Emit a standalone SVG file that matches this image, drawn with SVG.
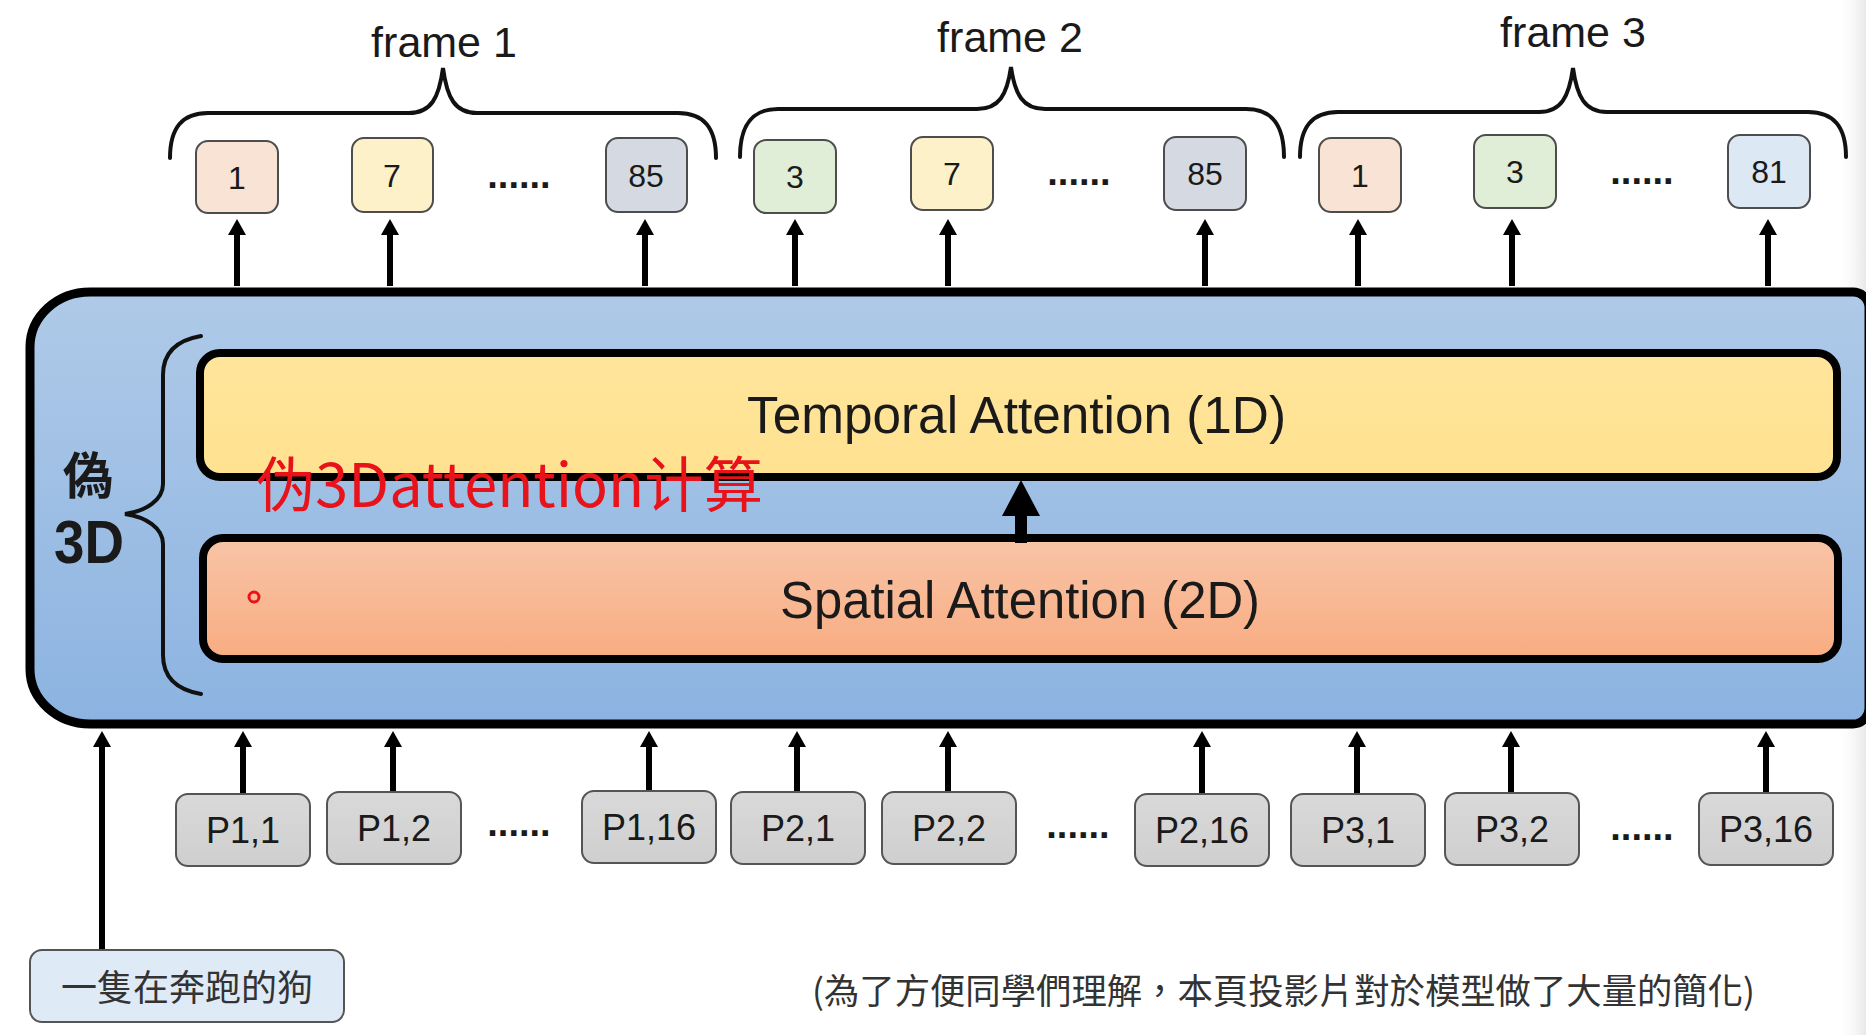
<svg xmlns="http://www.w3.org/2000/svg" width="1866" height="1035" viewBox="0 0 1866 1035">
<style>
.lat{font-family:"Liberation Sans",Arial,sans-serif;fill:#1a1a1a}
.cjk{font-family:"Noto Sans CJK TC","Noto Sans CJK SC",sans-serif;fill:#333}
.tok{stroke:#4d4d4d;stroke-width:2}
.pbox{fill:url(#gP);stroke:#555;stroke-width:2}
.brace{fill:none;stroke:#111;stroke-width:4;stroke-linecap:round}
.arr{stroke:#000;stroke-width:6;fill:none;marker-end:url(#ah)}
.num{font-size:32px;text-anchor:middle}
.pt{font-size:36px;text-anchor:middle}
.dots{font-size:38px;font-weight:bold;text-anchor:middle}
.frm{font-size:43px;text-anchor:middle}
</style>
<defs>
<linearGradient id="gC" x1="0" y1="0" x2="0" y2="1"><stop offset="0" stop-color="#AFCAE8"/><stop offset="1" stop-color="#8CB3E1"/></linearGradient>
<linearGradient id="gT" x1="0" y1="0" x2="0" y2="1"><stop offset="0" stop-color="#FFE59C"/><stop offset="1" stop-color="#FFE290"/></linearGradient>
<linearGradient id="gS" x1="0" y1="0" x2="0" y2="1"><stop offset="0" stop-color="#F8C4A7"/><stop offset="1" stop-color="#F9AC81"/></linearGradient>
<linearGradient id="gP" x1="0" y1="0" x2="0" y2="1"><stop offset="0" stop-color="#D9D9D9"/><stop offset="1" stop-color="#CFCFCF"/></linearGradient>
<linearGradient id="gR" x1="0" y1="0" x2="1" y2="0"><stop offset="0" stop-color="#FFFFFF" stop-opacity="0"/><stop offset="1" stop-color="#E8E8E8"/></linearGradient>
<marker id="ah" markerUnits="userSpaceOnUse" viewBox="0 0 16 18" markerWidth="16" markerHeight="18" refX="0" refY="9" orient="auto"><path d="M0,0 L16,9 L0,18 Z" fill="#000"/></marker>
<marker id="ahB" markerUnits="userSpaceOnUse" viewBox="0 0 36 38" markerWidth="36" markerHeight="38" refX="0" refY="19" orient="auto"><path d="M0,0 L36,19 L0,38 Z" fill="#000"/></marker>
</defs>
<rect width="1866" height="1035" fill="#FFFFFF"/>
<rect x="1836" y="0" width="30" height="1035" fill="url(#gR)"/>

<g id="frame-braces">
<path class="brace" d="M170 158 C170 128 182 113 208 113 H409 C431 113 439 98 443 68 C447 98 455 113 477 113 H678 C704 113 716 128 716 158"/>
<text class="lat frm" x="444" y="57">frame 1</text>
<path class="brace" d="M740 157 C740 125 752 109 778 109 H977 C999 109 1007 95 1011 67 C1015 95 1023 109 1045 109 H1246 C1272 109 1284 125 1284 157"/>
<text class="lat frm" x="1010" y="52">frame 2</text>
<path class="brace" d="M1300 157 C1300 127 1312 112 1338 112 H1539 C1561 112 1569 97 1573 68 C1577 97 1585 112 1607 112 H1808 C1834 112 1846 127 1846 157"/>
<text class="lat frm" x="1573" y="47">frame 3</text>
</g>

<g id="pseudo3d-block">
<path d="M90 292 H1853 A16 16 0 0 1 1869 308 V708 A16 16 0 0 1 1853 724 H90 A60 55 0 0 1 30 669 V347 A60 55 0 0 1 90 292 Z" fill="url(#gC)" stroke="#000" stroke-width="9"/>
<path class="brace" d="M201 336 C178 340 163 352 163 375 V484 C163 500 146 511 125 514 C146 517 163 528 163 544 V655 C163 678 178 690 201 694"/>
<text x="88" y="494" text-anchor="middle" font-size="50" font-weight="bold" style="font-family:'Noto Sans CJK TC','Noto Sans CJK SC',sans-serif;fill:#1a1a1a">偽</text>
<text class="lat" x="54" y="563" font-size="62" font-weight="bold" textLength="70" lengthAdjust="spacingAndGlyphs">3D</text>
</g>

<g id="temporal-attention">
<rect x="200" y="353" width="1637" height="124" rx="20" fill="url(#gT)" stroke="#000" stroke-width="8"/>
<text class="lat" x="747" y="433" font-size="51" textLength="539" lengthAdjust="spacingAndGlyphs">Temporal Attention (1D)</text>
</g>

<g id="spatial-attention">
<rect x="203" y="538" width="1635" height="121" rx="20" fill="url(#gS)" stroke="#000" stroke-width="8"/>
<text class="lat" x="780" y="618" font-size="51" textLength="480" lengthAdjust="spacingAndGlyphs">Spatial Attention (2D)</text>
<circle cx="254" cy="597" r="5" fill="none" stroke="#E8131A" stroke-width="3"/>
</g>

<g id="connectors">
<line x1="1021" y1="543" x2="1021" y2="516" stroke="#000" stroke-width="12" marker-end="url(#ahB)"/>
<line class="arr" x1="237" y1="286" x2="237" y2="235"/>
<line class="arr" x1="390" y1="286" x2="390" y2="235"/>
<line class="arr" x1="645" y1="286" x2="645" y2="235"/>
<line class="arr" x1="795" y1="286" x2="795" y2="235"/>
<line class="arr" x1="948" y1="286" x2="948" y2="235"/>
<line class="arr" x1="1205" y1="286" x2="1205" y2="235"/>
<line class="arr" x1="1358" y1="286" x2="1358" y2="235"/>
<line class="arr" x1="1512" y1="286" x2="1512" y2="235"/>
<line class="arr" x1="1768" y1="286" x2="1768" y2="235"/>
<line class="arr" x1="102" y1="949" x2="102" y2="747"/>
<line class="arr" x1="243" y1="794" x2="243" y2="747"/>
<line class="arr" x1="393" y1="793" x2="393" y2="747"/>
<line class="arr" x1="649" y1="792" x2="649" y2="747"/>
<line class="arr" x1="797" y1="793" x2="797" y2="747"/>
<line class="arr" x1="948" y1="793" x2="948" y2="747"/>
<line class="arr" x1="1202" y1="794" x2="1202" y2="747"/>
<line class="arr" x1="1357" y1="794" x2="1357" y2="747"/>
<line class="arr" x1="1511" y1="793" x2="1511" y2="747"/>
<line class="arr" x1="1766" y1="793" x2="1766" y2="747"/>
</g>

<text id="red-note" x="256" y="507" font-size="60" textLength="507" lengthAdjust="spacingAndGlyphs" style="font-family:'Noto Sans CJK SC','Noto Sans CJK TC',sans-serif;fill:#E8131A">伪3Dattention计算</text>

<g id="f1-t1"><rect class="tok" x="196" y="141" width="82" height="72" rx="12" fill="#F9E3D4"/><text class="lat num" x="237" y="189">1</text></g>
<g id="f1-t7"><rect class="tok" x="352" y="138" width="81" height="74" rx="12" fill="#FDF1C9"/><text class="lat num" x="392" y="187">7</text></g>
<text class="lat dots" x="519" y="188">......</text>
<g id="f1-t85"><rect class="tok" x="606" y="138" width="81" height="74" rx="12" fill="#D5DAE2"/><text class="lat num" x="646" y="187">85</text></g>

<g id="f2-t3"><rect class="tok" x="754" y="140" width="82" height="73" rx="12" fill="#E0EDD7"/><text class="lat num" x="795" y="188">3</text></g>
<g id="f2-t7"><rect class="tok" x="911" y="137" width="82" height="73" rx="12" fill="#FDF1C9"/><text class="lat num" x="952" y="185">7</text></g>
<text class="lat dots" x="1079" y="185">......</text>
<g id="f2-t85"><rect class="tok" x="1164" y="137" width="82" height="73" rx="12" fill="#D5DAE2"/><text class="lat num" x="1205" y="185">85</text></g>

<g id="f3-t1"><rect class="tok" x="1319" y="138" width="82" height="74" rx="12" fill="#F9E3D4"/><text class="lat num" x="1360" y="187">1</text></g>
<g id="f3-t3"><rect class="tok" x="1474" y="135" width="82" height="73" rx="12" fill="#E0EDD7"/><text class="lat num" x="1515" y="183">3</text></g>
<text class="lat dots" x="1642" y="184">......</text>
<g id="f3-t81"><rect class="tok" x="1728" y="135" width="82" height="73" rx="12" fill="#DCE8F4"/><text class="lat num" x="1769" y="183">81</text></g>

<g id="p1-1"><rect class="pbox" x="176" y="794" width="134" height="72" rx="12"/><text class="lat pt" x="243" y="843">P1,1</text></g>
<g id="p1-2"><rect class="pbox" x="327" y="792" width="134" height="72" rx="12"/><text class="lat pt" x="394" y="841">P1,2</text></g>
<text class="lat dots" x="519" y="836">......</text>
<g id="p1-16"><rect class="pbox" x="582" y="791" width="134" height="72" rx="12"/><text class="lat pt" x="649" y="840">P1,16</text></g>
<g id="p2-1"><rect class="pbox" x="731" y="792" width="134" height="72" rx="12"/><text class="lat pt" x="798" y="841">P2,1</text></g>
<g id="p2-2"><rect class="pbox" x="882" y="792" width="134" height="72" rx="12"/><text class="lat pt" x="949" y="841">P2,2</text></g>
<text class="lat dots" x="1078" y="838">......</text>
<g id="p2-16"><rect class="pbox" x="1135" y="794" width="134" height="72" rx="12"/><text class="lat pt" x="1202" y="843">P2,16</text></g>
<g id="p3-1"><rect class="pbox" x="1291" y="794" width="134" height="72" rx="12"/><text class="lat pt" x="1358" y="843">P3,1</text></g>
<g id="p3-2"><rect class="pbox" x="1445" y="793" width="134" height="72" rx="12"/><text class="lat pt" x="1512" y="842">P3,2</text></g>
<text class="lat dots" x="1642" y="840">......</text>
<g id="p3-16"><rect class="pbox" x="1699" y="793" width="134" height="72" rx="12"/><text class="lat pt" x="1766" y="842">P3,16</text></g>

<g id="prompt"><rect x="30" y="950" width="314" height="72" rx="12" fill="#DEEBF7" stroke="#555" stroke-width="2"/><text class="cjk" x="187" y="1001" font-size="36" text-anchor="middle">一隻在奔跑的狗</text></g>

<text id="footnote" class="cjk" x="812" y="1004" font-size="35" textLength="943" lengthAdjust="spacingAndGlyphs">(為了方便同學們理解，本頁投影片對於模型做了大量的簡化)</text>
</svg>
